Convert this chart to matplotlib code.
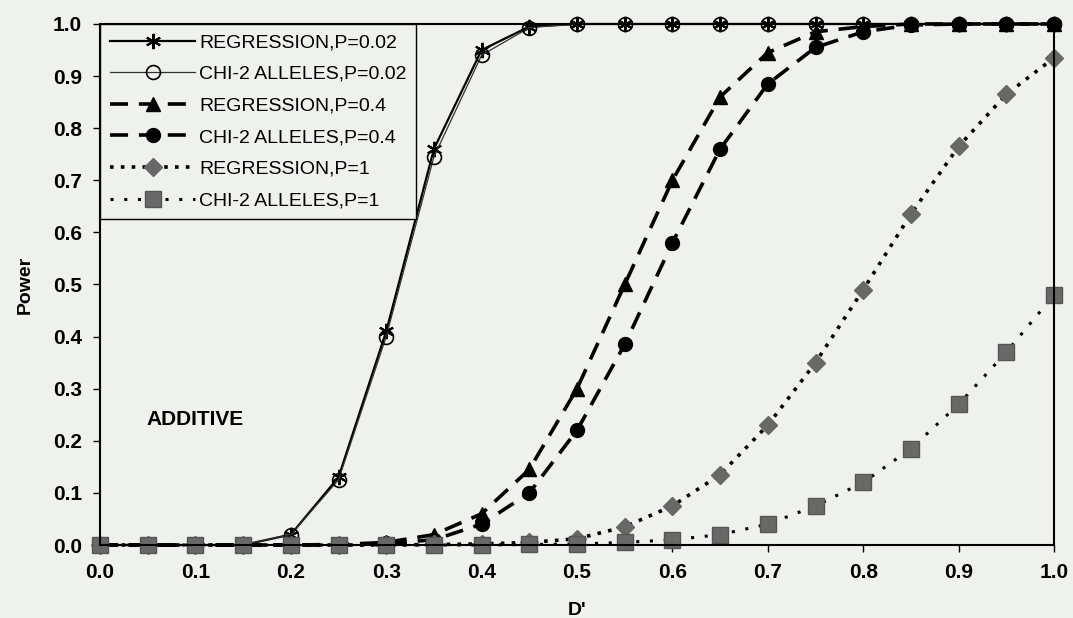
import matplotlib.pyplot as plt

# D' values (x axis)
d_prime = [0.0, 0.05, 0.1, 0.15, 0.2, 0.25, 0.3, 0.35, 0.4, 0.45, 0.5,
           0.55, 0.6, 0.65, 0.7, 0.75, 0.8, 0.85, 0.9, 0.95, 1.0]

# power values
reg_p002 = [0, 0, 0, 0, 0.02, 0.13, 0.41, 0.76, 0.95, 0.995, 1.0,
            1.0, 1.0, 1.0, 1.0, 1.0, 1.0, 1.0, 1.0, 1.0, 1.0]
chi_p002 = [0, 0, 0, 0, 0.02, 0.125, 0.40, 0.745, 0.94, 0.993, 1.0,
            1.0, 1.0, 1.0, 1.0, 1.0, 1.0, 1.0, 1.0, 1.0, 1.0]
reg_p04 = [0, 0, 0, 0, 0, 0.001, 0.005, 0.02, 0.06, 0.145, 0.30,
           0.50, 0.70, 0.86, 0.945, 0.985, 0.995, 1.0, 1.0, 1.0, 1.0]
chi_p04 = [0, 0, 0, 0, 0, 0, 0.003, 0.01, 0.04, 0.10, 0.22,
           0.385, 0.58, 0.76, 0.885, 0.955, 0.985, 0.998, 1.0, 1.0, 1.0]
reg_p1 = [0, 0, 0, 0, 0, 0, 0, 0.001, 0.002, 0.005, 0.012,
          0.035, 0.075, 0.135, 0.23, 0.35, 0.49, 0.635, 0.765, 0.865, 0.935]
chi_p1 = [0, 0, 0, 0, 0, 0, 0, 0, 0, 0.001, 0.002,
          0.005, 0.01, 0.02, 0.04, 0.075, 0.12, 0.185, 0.27, 0.37, 0.48]

labels = ['REGRESSION,P=0.02', 'CHI-2 ALLELES,P=0.02',
          'REGRESSION,P=0.4', 'CHI-2 ALLELES,P=0.4',
          'REGRESSION,P=1', 'CHI-2 ALLELES,P=1']

bg = '#eff1ec'
gray = '#686868'

plt.rcParams['font.family'] = ['Liberation Sans', 'DejaVu Sans']

fig = plt.figure(figsize=(10.73, 6.18), dpi=100, facecolor=bg)
ax = fig.add_axes([0.0932, 0.1181, 0.8891, 0.8431], facecolor=bg)

ax.plot(d_prime, reg_p002, color='black', lw=1.6, marker=(6, 2, 0),
        markersize=11, markeredgewidth=1.5, clip_on=False, label=labels[0])
ax.plot(d_prime, chi_p002, color='#333333', lw=0.9, marker='o',
        markersize=10, markerfacecolor='none', markeredgecolor='black',
        markeredgewidth=1.2, clip_on=False, label=labels[1])
ax.plot(d_prime, reg_p04, color='black', lw=2.6, ls=(0, (5, 3)), marker='^',
        markersize=10, clip_on=False, label=labels[2])
ax.plot(d_prime, chi_p04, color='black', lw=2.6, ls=(0, (5, 3)), marker='o',
        markersize=10, clip_on=False, label=labels[3])
ax.plot(d_prime, reg_p1, color='black', lw=2.6, ls=(0, (1, 2)), marker='D',
        markersize=9, markerfacecolor=gray, markeredgecolor=gray,
        clip_on=False, label=labels[4])
ax.plot(d_prime, chi_p1, color='black', lw=2.2, ls=(0, (1, 3.5)), marker='s',
        markersize=11, markerfacecolor=gray, markeredgecolor='#555555',
        clip_on=False, label=labels[5])

ax.set_xlim(0, 1)
ax.set_ylim(0, 1)
ax.set_xticks([i / 10 for i in range(11)])
ax.set_yticks([i / 10 for i in range(11)])
ax.set_xticklabels(['%.1f' % (i / 10) for i in range(11)])
ax.set_yticklabels(['%.1f' % (i / 10) for i in range(11)])
ax.tick_params(direction='out', length=5, width=1, labelsize=15, pad=8)
for lab in ax.get_xticklabels() + ax.get_yticklabels():
    lab.set_fontweight('bold')
for sp in ax.spines.values():
    sp.set_linewidth(1.5)

ax.set_xlabel("D'", fontsize=14, fontweight='bold', labelpad=14)
ax.set_ylabel('Power', fontsize=14, fontweight='bold', labelpad=14)

ax.text(0.049, 0.24, 'ADDITIVE', fontsize=15, fontweight='bold',
        va='center', ha='left')

leg = ax.legend(loc='upper left', borderaxespad=0, fontsize=14,
                handlelength=4.4, handletextpad=0.2, labelspacing=0.72,
                fancybox=False, framealpha=1, facecolor=bg,
                edgecolor='black', borderpad=0.5)
leg.get_frame().set_linewidth(1.0)

fig.savefig('out.png', dpi=100, facecolor=bg)
